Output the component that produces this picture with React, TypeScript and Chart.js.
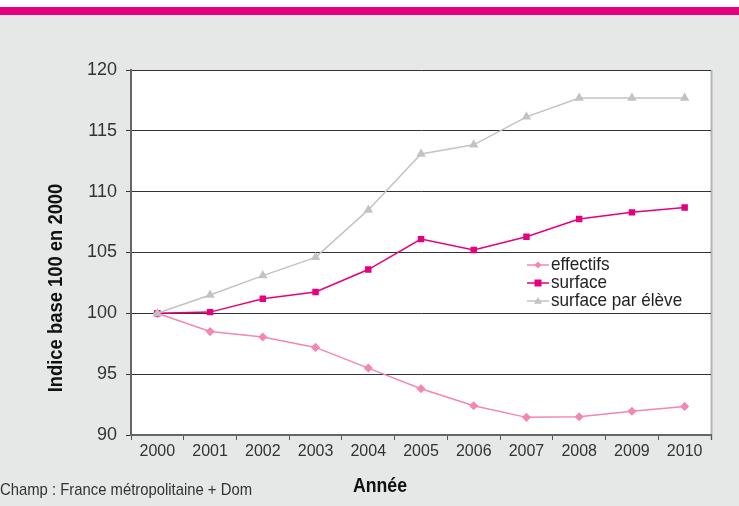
import React, { useEffect, useRef } from "react";
import { Chart, registerables } from "chart.js";

Chart.register(...registerables);

const years = ["2000", "2001", "2002", "2003", "2004", "2005", "2006", "2007", "2008", "2009", "2010"];
const effectifs = [100, 98.5, 98.05, 97.2, 95.5, 93.8, 92.4, 91.45, 91.5, 91.95, 92.35];
const surface = [100, 100.1, 101.2, 101.75, 103.6, 106.1, 105.2, 106.3, 107.75, 108.3, 108.7];
const surfaceParEleve = [100, 101.5, 103.1, 104.6, 108.5, 113.1, 113.85, 116.15, 117.7, 117.7, 117.7];

const yTitle = "Indice base 100 en 2000";
const xTitle = "Année";
const footnote = "Champ : France métropolitaine + Dom";

const FONT = "'Liberation Sans', Arial, sans-serif";

const PINK = "#e6007e";
const LIGHT_PINK = "#f386b4";
const GREY = "#c3c3c3";

function narrowText(ctx: any, text: string, x: number, y: number, sx: number, align: string) {
  ctx.save();
  ctx.translate(x, y);
  ctx.scale(sx, 1);
  ctx.textAlign = align;
  ctx.fillText(text, 0, 0);
  ctx.restore();
}

const decorPlugin = {
  id: "decor",
  beforeDraw(chart: any) {
    const { ctx, chartArea, width, height } = chart;
    ctx.save();
    ctx.fillStyle = "#e6e7e7";
    ctx.fillRect(0, 0, width, height);
    ctx.fillStyle = "#ffffff";
    ctx.fillRect(0, 0, width, 7);
    ctx.fillStyle = PINK;
    ctx.fillRect(0, 7, width, 8);
    ctx.fillStyle = "#ffffff";
    ctx.fillRect(chartArea.left, chartArea.top, chartArea.right - chartArea.left, chartArea.bottom - chartArea.top);
    ctx.strokeStyle = "#b5b5b5";
    ctx.lineWidth = 2;
    ctx.beginPath();
    ctx.moveTo(chartArea.right + 0.5, chartArea.top);
    ctx.lineTo(chartArea.right + 0.5, chartArea.bottom + 5);
    ctx.stroke();
    ctx.restore();
  },
  afterDraw(chart: any) {
    const { ctx } = chart;
    ctx.save();
    ctx.fillStyle = "#111";
    ctx.textBaseline = "middle";
    ctx.font = `bold 20px ${FONT}`;
    narrowText(ctx, xTitle, 380, 486, 0.885, "center");
    ctx.save();
    ctx.translate(56, 288);
    ctx.rotate(-Math.PI / 2);
    ctx.scale(0.92, 1);
    ctx.textAlign = "center";
    ctx.fillText(yTitle, 0, 0);
    ctx.restore();
    ctx.font = `17px ${FONT}`;
    ctx.fillStyle = "#333";
    narrowText(ctx, footnote, 0, 490, 0.873, "left");
    const x0 = 527;
    const x1 = 549;
    const rows = [265, 283, 301];
    chart.data.datasets.forEach((ds: any, i: number) => {
      const y = rows[i];
      ctx.strokeStyle = ds.borderColor;
      ctx.lineWidth = 1.5;
      ctx.beginPath();
      ctx.moveTo(x0, y);
      ctx.lineTo(x1, y);
      ctx.stroke();
      ctx.fillStyle = ds.pointBackgroundColor;
      const cx = (x0 + x1) / 2;
      const r = ds.pointRadius;
      ctx.beginPath();
      if (ds.pointStyle === "rect") {
        ctx.rect(cx - r, y - r, 2 * r, 2 * r);
      } else if (ds.pointStyle === "rectRot") {
        ctx.moveTo(cx, y - r);
        ctx.lineTo(cx + r, y);
        ctx.lineTo(cx, y + r);
        ctx.lineTo(cx - r, y);
        ctx.closePath();
      } else {
        ctx.moveTo(cx, y - r);
        ctx.lineTo(cx + r, y + r * 0.7);
        ctx.lineTo(cx - r, y + r * 0.7);
        ctx.closePath();
      }
      ctx.fill();
      ctx.fillStyle = "#222";
      ctx.font = `19px ${FONT}`;
      ctx.textBaseline = "middle";
      narrowText(ctx, ds.label, x1 + 2, y, 0.9, "left");
    });
    ctx.restore();
  },
};

export default function App() {
  const ref = useRef<HTMLCanvasElement | null>(null);
  useEffect(() => {
    if (!ref.current) return;
    const chart = new Chart(ref.current, {
      type: "line",
      data: {
        labels: years,
        datasets: [
          {
            label: "effectifs",
            data: effectifs,
            borderColor: LIGHT_PINK,
            backgroundColor: LIGHT_PINK,
            pointBackgroundColor: LIGHT_PINK,
            pointBorderColor: LIGHT_PINK,
            pointStyle: "rectRot",
            pointRadius: 3.5,
            borderWidth: 1.5,
            order: 3,
          },
          {
            label: "surface",
            data: surface,
            borderColor: PINK,
            backgroundColor: PINK,
            pointBackgroundColor: PINK,
            pointBorderColor: PINK,
            pointStyle: "rect",
            pointRadius: 3.5,
            borderWidth: 1.5,
            order: 2,
          },
          {
            label: "surface par élève",
            data: surfaceParEleve,
            borderColor: GREY,
            backgroundColor: GREY,
            pointBackgroundColor: GREY,
            pointBorderColor: GREY,
            pointStyle: "triangle",
            pointRadius: 4,
            borderWidth: 1.5,
            order: 1,
          },
        ] as any,
      },
      options: {
        responsive: false,
        animation: false,
        layout: { padding: { left: 0, top: 70, right: 28, bottom: 41 } },
        plugins: {
          legend: { display: false },
          tooltip: { enabled: false },
        },
        scales: {
          x: {
            offset: true,
            grid: {
              offset: true,
              drawOnChartArea: false,
              drawTicks: true,
              tickLength: 5,
              color: "#555",
            },
            border: { color: "#666", width: 2 },
            ticks: {
              color: "#333",
              font: { family: FONT, size: 16 },
              padding: 2,
              maxRotation: 0,
              autoSkip: false,
            },
            afterFit(scale: any) {
              scale.height = 30;
            },
          },
          y: {
            min: 90,
            max: 120,
            ticks: {
              stepSize: 5,
              color: "#333",
              font: { family: FONT, size: 18 },
              padding: 9,
            },
            grid: {
              color: "#333",
              lineWidth: 1,
              tickLength: 5,
            },
            border: { color: "#666", width: 2 },
            afterFit(scale: any) {
              scale.width = 131;
            },
          },
        },
      },
      plugins: [decorPlugin],
    });
    return () => chart.destroy();
  }, []);
  return (
    <div style={{ position: "absolute", left: 0, top: 0, width: 739, height: 506 }}>
      <canvas ref={ref} width={739} height={506} style={{ width: 739, height: 506, display: "block" }} />
    </div>
  );
}
